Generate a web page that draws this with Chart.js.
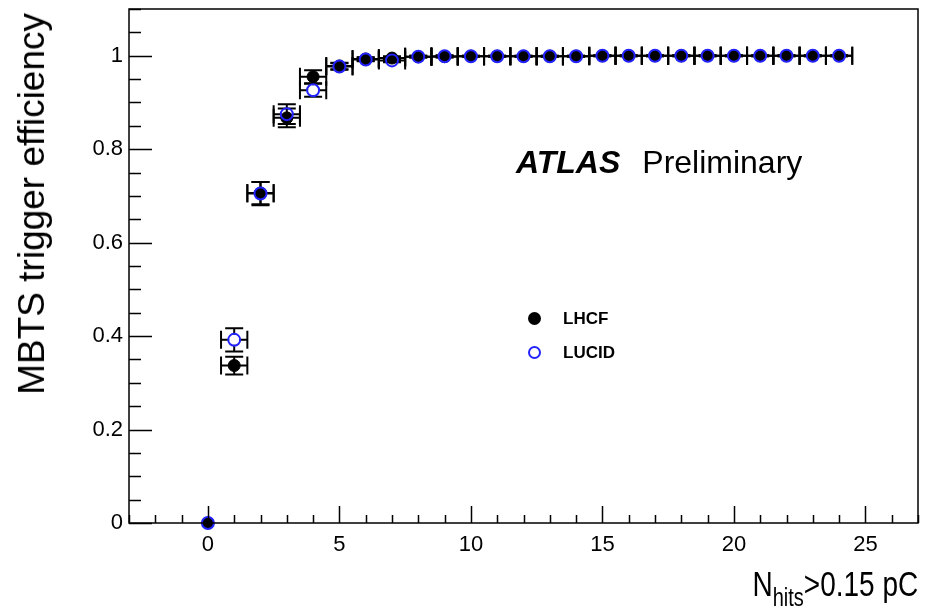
<!DOCTYPE html>
<html>
<head>
<meta charset="utf-8">
<title>MBTS trigger efficiency</title>
<script src="https://cdn.jsdelivr.net/npm/chart.js@4.4.0/dist/chart.umd.min.js"></script>
<style>
  html, body { margin: 0; padding: 0; background: #fff; }
  #wrap { position: relative; width: 941px; height: 609px; font-family: "Liberation Sans", Arial, sans-serif; color: #000; }
  #wrap canvas { position: absolute; left: 0; top: 0; }
  .txt { position: absolute; white-space: nowrap; line-height: 1; }
  #ytitle { left: 13px; top: 13px; font-size: 37px; transform-origin: top left; transform: rotate(-90deg) translateX(-100%); }
  #xtitle { right: 23px; top: 566px; font-size: 35px; transform-origin: right top; transform: scaleX(0.8); }
  #xtitle sub { font-size: 25px; vertical-align: -10px; }
  #atlas { left: 516px; top: 146px; font-size: 32px; }
  #atlas b { font-style: italic; margin-right: 22px; }
  .leg { position: absolute; font-size: 17px; font-weight: bold; line-height: 1; }
  .leg span { position: absolute; left: -35px; top: 2px; width: 13px; height: 13px; border-radius: 50%; box-sizing: border-box; }
</style>
</head>
<body>
<div id="wrap">
  <canvas id="effChart" width="941" height="609"></canvas>
  <div id="ytitle" class="txt">MBTS trigger efficiency</div>
  <div id="xtitle" class="txt">N<sub>hits</sub>&gt;0.15 pC</div>
  <div id="atlas" class="txt"><b>ATLAS</b>Preliminary</div>
  <div class="leg" style="left:563px; top:310px;"><span style="background:#000;"></span>LHCF</div>
  <div class="leg" style="left:563px; top:344px;"><span style="border:2px solid #2222ff;"></span>LUCID</div>
</div>
<script>
// bins of N_hits (charge > 0.15 pC)
const binCenters = [0, 1, 2, 3, 4, 5, 6, 7, 8, 9, 10, 11, 12, 13, 14, 15, 16, 17, 18, 19, 20, 21, 22, 23, 24];
const binHalfWidths = [0, 0.5, 0.5, 0.5, 0.5, 0.5, 0.5, 0.5, 0.5, 0.5, 0.5, 0.5, 0.5, 0.5, 0.5, 0.5, 0.5, 0.5, 0.5, 0.5, 0.5, 0.5, 0.5, 0.5, 0.5];

const lhcfEff = [0, 0.337, 0.706, 0.867, 0.955, 0.978, 0.993, 0.995, 0.998, 0.998, 0.999, 0.999, 0.999, 0.999, 0.999, 1, 1, 1, 1, 1, 1, 1, 1, 1, 1];
const lhcfErr = [0, 0.019, 0.024, 0.02, 0.014, 0.007, 0.004, 0.004, 0.002, 0.002, 0.001, 0.001, 0.001, 0.001, 0.001, 0.001, 0.001, 0.001, 0.001, 0.001, 0.001, 0.001, 0.001, 0.001, 0.001];

const lucidEff = [0, 0.392, 0.705, 0.875, 0.926, 0.977, 0.992, 0.99, 0.998, 0.999, 0.999, 0.999, 0.999, 0.999, 0.999, 1, 1, 1, 1, 1, 1, 1, 1, 1, 1];
const lucidErr = [0, 0.025, 0.025, 0.021, 0.014, 0.007, 0.004, 0.004, 0.002, 0.002, 0.001, 0.001, 0.001, 0.001, 0.001, 0.001, 0.001, 0.001, 0.001, 0.001, 0.001, 0.001, 0.001, 0.001, 0.001];

const xTickLabels = [0, 5, 10, 15, 20, 25];
const yTickLabels = [0, 0.2, 0.4, 0.6, 0.8, 1];

const toPoints = (ys) => binCenters.map((x, i) => ({ x: x, y: ys[i] }));

// ROOT-like frame with inward ticks
const framePlugin = {
    id: 'frame',
    afterDraw(chart) {
        const ctx = chart.ctx, a = chart.chartArea;
        const xs = chart.scales.x, ys = chart.scales.y;
        ctx.save();
        ctx.strokeStyle = '#000';
        ctx.lineWidth = 1.5;
        ctx.strokeRect(a.left, a.top, a.right - a.left, a.bottom - a.top);
        ctx.beginPath();
        for (let v = Math.ceil(xs.min); v <= xs.max; v++) {
            const px = Math.round(xs.getPixelForValue(v)) + 0.5;
            const len = v % 5 === 0 ? 17 : 8;
            ctx.moveTo(px, a.bottom);
            ctx.lineTo(px, a.bottom - len);
        }
        for (let k = 0; k * 0.05 <= ys.max + 1e-9; k++) {
            const py = Math.round(ys.getPixelForValue(k * 0.05)) + 0.5;
            const len = k % 4 === 0 ? 23 : 12;
            ctx.moveTo(a.left, py);
            ctx.lineTo(a.left + len, py);
        }
        ctx.stroke();
        ctx.restore();
    }
};

// error bars with end caps, gapped around the marker
const errorBarPlugin = {
    id: 'errorBars',
    beforeDatasetsDraw(chart) {
        const ctx = chart.ctx;
        const xs = chart.scales.x, ys = chart.scales.y;
        const gap = 5, cap = 9;
        ctx.save();
        ctx.strokeStyle = '#000';
        ctx.lineWidth = 2;
        chart.data.datasets.forEach((ds) => {
            ds.data.forEach((p, i) => {
                const hw = binHalfWidths[i];
                const err = ds.errors[i];
                if (!hw && !err) return;
                const cx = xs.getPixelForValue(p.x), cy = ys.getPixelForValue(p.y);
                ctx.beginPath();
                if (hw) {
                    const xl = xs.getPixelForValue(p.x - hw), xr = xs.getPixelForValue(p.x + hw);
                    ctx.moveTo(xl, cy); ctx.lineTo(cx - gap, cy);
                    ctx.moveTo(cx + gap, cy); ctx.lineTo(xr, cy);
                    ctx.moveTo(xl, cy - cap); ctx.lineTo(xl, cy + cap);
                    ctx.moveTo(xr, cy - cap); ctx.lineTo(xr, cy + cap);
                }
                if (err) {
                    const yt = ys.getPixelForValue(p.y + err), yb = ys.getPixelForValue(p.y - err);
                    if (cy - gap > yt) { ctx.moveTo(cx, yt); ctx.lineTo(cx, cy - gap); }
                    if (yb > cy + gap) { ctx.moveTo(cx, cy + gap); ctx.lineTo(cx, yb); }
                    ctx.moveTo(cx - cap, yt); ctx.lineTo(cx + cap, yt);
                    ctx.moveTo(cx - cap, yb); ctx.lineTo(cx + cap, yb);
                }
                ctx.stroke();
            });
        });
        ctx.restore();
    }
};

document.addEventListener('DOMContentLoaded', function () {
    const ctxEff = document.getElementById('effChart').getContext('2d');

    new Chart(ctxEff, {
        type: 'scatter',
        data: {
            datasets: [{
                label: 'LHCF',
                data: toPoints(lhcfEff),
                errors: lhcfErr,
                pointRadius: 6,
                pointBackgroundColor: '#000',
                pointBorderColor: '#000',
                pointBorderWidth: 1,
                clip: false,
                order: 2
            }, {
                label: 'LUCID',
                data: toPoints(lucidEff),
                errors: lucidErr,
                pointRadius: 6,
                pointBackgroundColor: 'rgba(0,0,0,0)',
                pointBorderColor: '#2222ff',
                pointBorderWidth: 2,
                clip: false,
                order: 1
            }]
        },
        options: {
            responsive: false,
            animation: false,
            events: [],
            layout: { padding: { top: 9, right: 23, left: 0, bottom: 0 } },
            plugins: {
                legend: { display: false },
                tooltip: { enabled: false }
            },
            scales: {
                x: {
                    type: 'linear',
                    min: -3,
                    max: 27,
                    afterBuildTicks: (s) => { s.ticks = xTickLabels.map(v => ({ value: v })); },
                    afterFit: (s) => { s.height = 86; s.paddingLeft = 0; s.paddingRight = 0; },
                    grid: { display: false, drawTicks: false },
                    border: { display: false },
                    ticks: {
                        color: '#000',
                        padding: 9,
                        maxRotation: 0,
                        font: { family: '"Liberation Sans", Arial, sans-serif', size: 22 }
                    }
                },
                y: {
                    type: 'linear',
                    min: 0,
                    max: 1.1,
                    afterBuildTicks: (s) => { s.ticks = yTickLabels.map(v => ({ value: v })); },
                    afterFit: (s) => { s.width = 129; s.paddingTop = 0; s.paddingBottom = 0; },
                    grid: { display: false, drawTicks: false },
                    border: { display: false },
                    ticks: {
                        color: '#000',
                        padding: 6,
                        font: { family: '"Liberation Sans", Arial, sans-serif', size: 22 },
                        callback: (v) => String(parseFloat(v.toFixed(2)))
                    }
                }
            }
        },
        plugins: [framePlugin, errorBarPlugin]
    });
});
</script>
</body>
</html>
